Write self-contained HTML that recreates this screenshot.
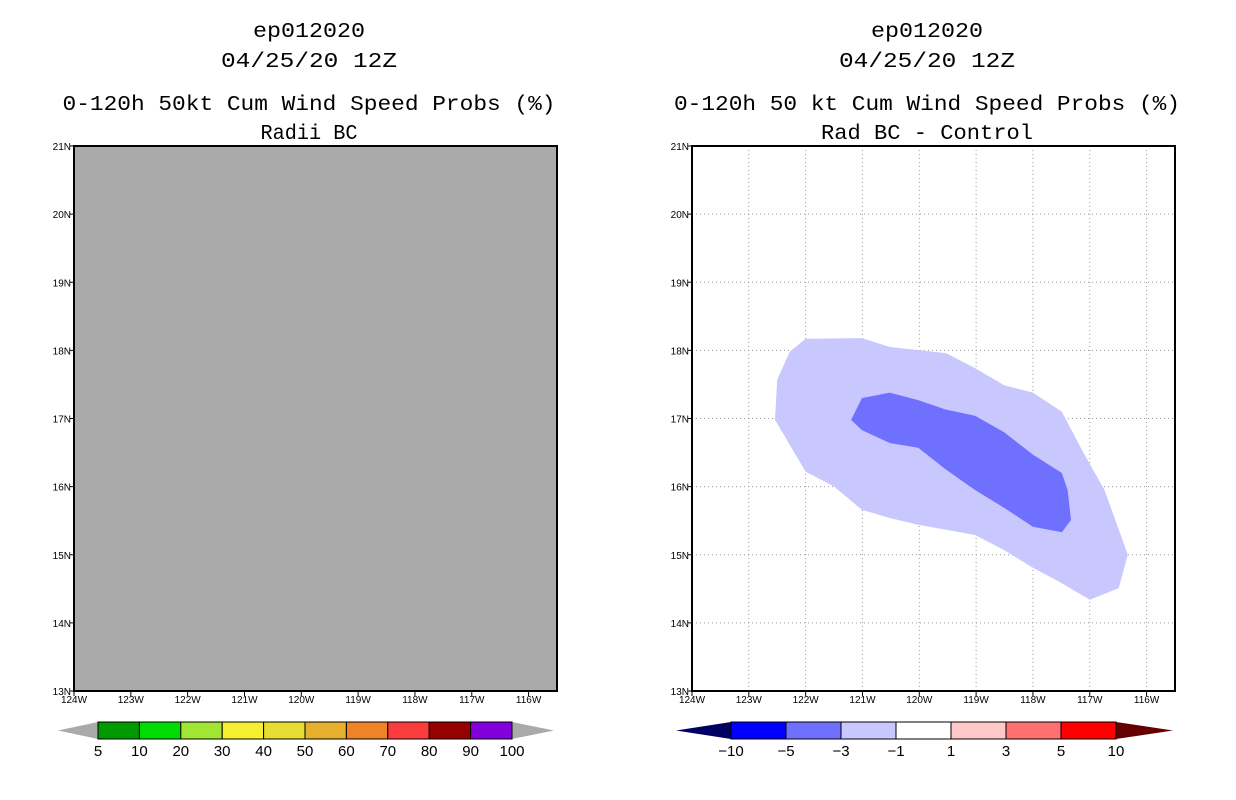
<!DOCTYPE html>
<html><head><meta charset="utf-8"><style>
body{margin:0;background:#fff}
svg{display:block;font-family:"Liberation Sans",sans-serif}
.t{font-family:"Liberation Mono",monospace;font-size:21px}
</style></head><body>
<svg id="s" width="1236" height="800" viewBox="0 0 1236 800">
<g class="t" text-anchor="middle" fill="#000">
<text x="309" y="37" textLength="112" lengthAdjust="spacingAndGlyphs">ep012020</text><text x="309" y="67" textLength="176" lengthAdjust="spacingAndGlyphs">04/25/20 12Z</text>
<text x="309" y="110" textLength="493" lengthAdjust="spacingAndGlyphs">0-120h 50kt Cum Wind Speed Probs (%)</text><text x="309" y="139" textLength="97" lengthAdjust="spacingAndGlyphs">Radii BC</text></g>
<g class="t" text-anchor="middle" fill="#000">
<text x="927" y="37" textLength="112" lengthAdjust="spacingAndGlyphs">ep012020</text><text x="927" y="67" textLength="176" lengthAdjust="spacingAndGlyphs">04/25/20 12Z</text>
<text x="927" y="110" textLength="506" lengthAdjust="spacingAndGlyphs">0-120h 50 kt Cum Wind Speed Probs (%)</text><text x="927" y="139" textLength="212" lengthAdjust="spacingAndGlyphs">Rad BC - Control</text></g>
<rect x="74" y="146" width="483" height="545" fill="#aaaaaa"/>
<g id="right"></g>
<g id="axes"></g>
<g id="cbars"></g>
</svg>
<script>
const lonTicks=[-124,-123,-122,-121,-120,-119,-118,-117,-116];
const latTicks=[13,14,15,16,17,18,19,20,21];
const lightLon=[-122.0,-121.01,-120.52,-119.53,-119.02,-118.51,-118.0,-117.49,-117.14,-116.74,-116.33,-116.49,-117.0,-117.53,-118.0,-118.51,-119.02,-120.02,-120.52,-121.01,-121.5,-122.0,-122.54,-122.5,-122.28];
const lightLat=[18.17,18.18,18.05,17.96,17.74,17.49,17.38,17.10,16.54,15.95,15.0,14.51,14.34,14.60,14.81,15.07,15.29,15.44,15.54,15.66,16.0,16.22,16.98,17.57,17.98];
const darkLon=[-121.2,-121.01,-120.52,-120.02,-119.53,-119.02,-118.51,-118.0,-117.49,-117.39,-117.33,-117.49,-118.0,-118.51,-119.02,-119.53,-120.02,-120.52,-121.01];
const darkLat=[16.98,17.30,17.38,17.27,17.13,17.04,16.80,16.47,16.20,15.95,15.51,15.33,15.41,15.69,15.95,16.25,16.57,16.64,16.83];
const leftColors=["#009a00","#00dc00","#a0e632","#f5f032","#e6dc32","#e6af2d","#f08228","#fa3c3c","#960000","#8200dc"];
const leftLabels=["5","10","20","30","40","50","60","70","80","90","100"];
const rightColors=["#0000ff","#7070ff","#c8c8ff","#ffffff","#ffc8c8","#ff7070","#ff0000"];
const rightLabels=["-10","-5","-3","-1","1","3","5","10"];
const NS="http://www.w3.org/2000/svg";
function mk(t,a,p){const e=document.createElementNS(NS,t);for(const k in a)e.setAttribute(k,a[k]);p.appendChild(e);return e;}
const W=483,H=545,lon0=-124,lon1=-115.5,lat0=13,lat1=21;
function X(x0,lon){return x0+(lon-lon0)/(lon1-lon0)*W;}
function Y(lat){return 691-(lat-lat0)/(lat1-lat0)*H;}
const R=document.getElementById('right'),A=document.getElementById('axes'),C=document.getElementById('cbars');
lonTicks.slice(1).forEach(l=>{const g=mk('line',{x1:X(692,l),x2:X(692,l),y1:146,y2:691,stroke:'#999','stroke-dasharray':'1,3'},R);

});
latTicks.slice(1,-1).forEach(l=>{const g=mk('line',{x1:692,x2:1175,y1:Y(l),y2:Y(l),stroke:'#999','stroke-dasharray':'1,3'},R);

});
function poly(lons,lats,fill,name){const pts=lons.map((l,i)=>X(692,l).toFixed(1)+','+Y(lats[i]).toFixed(1)).join(' ');
const p=mk('polygon',{points:pts,fill:fill},R);

}
poly(lightLon,lightLat,'#c8c8ff','contour-minus1-to-minus3');
poly(darkLon,darkLat,'#7070ff','contour-minus3-to-minus5');
[74,692].forEach((x0,pi)=>{
const f=mk('rect',{x:x0,y:146,width:W,height:H,fill:'none',stroke:'#000','stroke-width':2},A);


lonTicks.forEach(l=>{const x=X(x0,l);mk('line',{x1:x,x2:x,y1:691,y2:696,stroke:'#000'},A);
const t=mk('text',{x:x,y:703,'font-size':10,'text-anchor':'middle'},A);t.textContent=(-l)+'W';

});
latTicks.forEach(l=>{const y=Y(l);mk('line',{x1:x0-4,x2:x0,y1:y,y2:y,stroke:'#000'},A);
const t=mk('text',{x:x0-3,y:y+4,'font-size':10,'text-anchor':'end'},A);t.textContent=l+'N';

});
});
function cbar(x0,x1,tl,tr,cols,labs,lc,rc,name){
const y0=722,y1=739,ym=(y0+y1)/2,w=(x1-x0)/cols.length;
const g=mk('g',{},C);


mk('polygon',{points:`${tl},${ym} ${x0},${y0} ${x0},${y1}`,fill:lc},g);
mk('polygon',{points:`${tr},${ym} ${x1},${y0} ${x1},${y1}`,fill:rc},g);
cols.forEach((c,i)=>mk('rect',{x:x0+i*w,y:y0,width:w,height:y1-y0,fill:c,stroke:'#000','stroke-width':1},g));
labs.forEach((s,i)=>{const t=mk('text',{x:x0+i*w,y:756,'font-size':15,'text-anchor':'middle'},g);t.textContent=s.replace('-','\u2212');});
}
cbar(98,512,58,554,leftColors,leftLabels,'#aaaaaa','#aaaaaa','left-colorbar');
cbar(731,1116,676,1173,rightColors,rightLabels,'#000064','#640000','right-colorbar');
</script>
</body></html>
